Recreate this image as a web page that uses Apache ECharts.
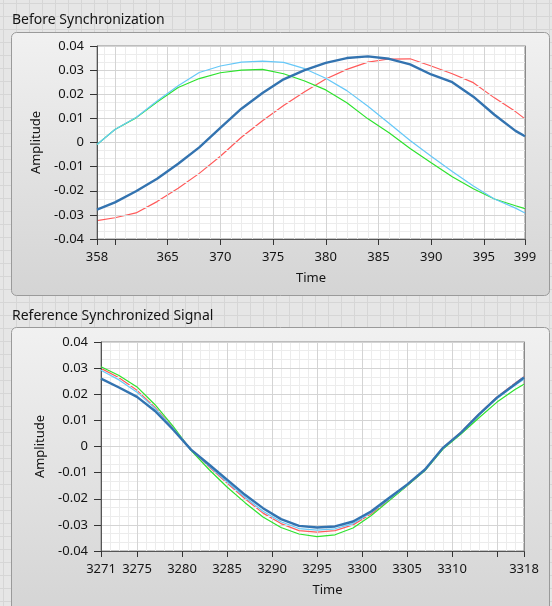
<!DOCTYPE html>
<html>
<head>
<meta charset="utf-8">
<script src="https://cdn.jsdelivr.net/npm/echarts@6/dist/echarts.min.js"></script>
<style>
  html, body { margin: 0; padding: 0; }
  body {
    width: 552px; height: 606px; overflow: hidden;
    background-color: #e6e6e6;
    background-image:
      linear-gradient(#d6d6d6 1px, transparent 1px),
      linear-gradient(90deg, #d6d6d6 1px, transparent 1px);
    background-size: 13px 13px;
    background-position: 3px 3px;
  }
  #chart { width: 552px; height: 606px; }
</style>
</head>
<body>
<div id="chart"></div>
<script>
// ---------- Data: Before Synchronization ----------
const topTime = [358.3, 360, 362, 364, 366, 368, 370, 372, 374, 376, 378, 380, 382, 384, 386, 388, 390, 392, 394, 396, 398, 398.9];
const topRed = [-0.0324, -0.0312, -0.0292, -0.0245, -0.0190, -0.0128, -0.0057, 0.0022, 0.0090, 0.0153, 0.0210, 0.0263, 0.0303, 0.0333, 0.0346, 0.0347, 0.0317, 0.0285, 0.0248, 0.0185, 0.0128, 0.0098];
const topGreen = [-0.0008, 0.0054, 0.0102, 0.0168, 0.0228, 0.0265, 0.0289, 0.0300, 0.0303, 0.0285, 0.0255, 0.0218, 0.0165, 0.0098, 0.0040, -0.0025, -0.0084, -0.0142, -0.0192, -0.0234, -0.0262, -0.0274];
const topLightBlue = [-0.0008, 0.0054, 0.0104, 0.0172, 0.0235, 0.0290, 0.0317, 0.0333, 0.0337, 0.0332, 0.0306, 0.0266, 0.0215, 0.0150, 0.0080, 0.0008, -0.0057, -0.0120, -0.0180, -0.0234, -0.0272, -0.0292];
const topDarkBlue = [-0.0278, -0.0248, -0.0202, -0.0150, -0.0088, -0.0020, 0.0061, 0.0140, 0.0205, 0.0262, 0.0300, 0.0330, 0.0350, 0.0357, 0.0347, 0.0324, 0.0282, 0.0250, 0.0190, 0.0115, 0.0048, 0.0026];

// ---------- Data: Reference Synchronized Signal ----------
const botTime = [3271, 3273, 3275, 3277, 3279, 3281, 3283, 3285, 3287, 3289, 3291, 3293, 3295, 3297, 3299, 3301, 3303, 3305, 3307, 3309, 3311, 3313, 3315, 3317, 3318];
const botRed = [0.0299, 0.0263, 0.0215, 0.0150, 0.0072, -0.0012, -0.0078, -0.0140, -0.0200, -0.0255, -0.0295, -0.0322, -0.0328, -0.0322, -0.0300, -0.0258, -0.0205, -0.0150, -0.0090, -0.0005, 0.0055, 0.0125, 0.0190, 0.0242, 0.0267];
const botGreen = [0.0305, 0.0272, 0.0228, 0.0160, 0.0078, -0.0015, -0.0088, -0.0155, -0.0215, -0.0270, -0.0310, -0.0335, -0.0345, -0.0338, -0.0312, -0.0265, -0.0208, -0.0150, -0.0092, -0.0010, 0.0048, 0.0110, 0.0170, 0.0218, 0.0238];
const botLightBlue = [0.0292, 0.0255, 0.0208, 0.0146, 0.0070, -0.0012, -0.0075, -0.0135, -0.0194, -0.0248, -0.0288, -0.0314, -0.0320, -0.0315, -0.0295, -0.0254, -0.0202, -0.0148, -0.0089, -0.0005, 0.0053, 0.0120, 0.0184, 0.0234, 0.0257];
const botDarkBlue = [0.0260, 0.0226, 0.0190, 0.0136, 0.0065, -0.0012, -0.0069, -0.0127, -0.0185, -0.0236, -0.0278, -0.0304, -0.0310, -0.0306, -0.0287, -0.0249, -0.0197, -0.0146, -0.0088, -0.0005, 0.0053, 0.0123, 0.0187, 0.0238, 0.0264];

// ---------- Axes / ticks ----------
const topXMin = 358.3, topXMax = 398.9;
const topTickValues = [358.3, 360, 365, 370, 375, 380, 385, 390, 395, 398.9];
const topLabelValues = [358.3, 365, 370, 375, 380, 385, 390, 395, 398.9];
const topMinorValues = [359, 361, 362, 363, 364, 366, 367, 368, 369, 371, 372, 373, 374, 376, 377, 378, 379, 381, 382, 383, 384, 386, 387, 388, 389, 391, 392, 393, 394, 396, 397, 398];

const botXMin = 3271, botXMax = 3318;
const botTickValues = [3271, 3275, 3280, 3285, 3290, 3295, 3300, 3305, 3310, 3315, 3318];
const botLabelValues = [3271, 3275, 3280, 3285, 3290, 3295, 3300, 3305, 3310, 3318];
const botMinorValues = [3272, 3273, 3274, 3276, 3277, 3278, 3279, 3281, 3282, 3283, 3284, 3286, 3287, 3288, 3289, 3291, 3292, 3293, 3294, 3296, 3297, 3298, 3299, 3301, 3302, 3303, 3304, 3306, 3307, 3308, 3309, 3311, 3312, 3313, 3314, 3316, 3317];

const yMin = -0.04, yMax = 0.04, yInterval = 0.01;

const titles = ['Before Synchronization', 'Reference Synchronized Signal'];
const colors = { red: '#ff5a5a', green: '#2ee22e', lightBlue: '#66c8f8', darkBlue: '#3373b0' };

const FONT = 'Noto Sans';
const TEXT = '#141414';
const pair = (xs, ys) => xs.map((x, i) => [x, ys[i]]);

const chart = echarts.init(document.getElementById('chart'), null, { renderer: 'canvas' });

function mainX(gridIndex, min, max, ticks, labels, nameOpts) {
  return {
    gridIndex, type: 'value', min, max, position: 'bottom',
    axisLine: { show: true, onZero: false, lineStyle: { color: '#555', width: 1 } },
    axisTick: { show: true, inside: false, length: 6, customValues: ticks, lineStyle: { color: '#333' } },
    axisLabel: { customValues: labels, formatter: v => String(Math.round(v)), margin: 12, color: TEXT, fontSize: 13, fontFamily: FONT },
    splitLine: { show: true, lineStyle: { color: '#d4d4d4', width: 1 } },
    name: 'Time', nameLocation: 'middle', nameGap: nameOpts.gap,
    nameTextStyle: Object.assign({ color: TEXT, fontSize: 13, fontFamily: FONT }, nameOpts.style || {}),
    z: 3
  };
}
function minorX(gridIndex, min, max, vals) {
  return {
    gridIndex, type: 'value', min, max, position: 'top',
    axisLine: { show: true, onZero: false, lineStyle: { color: '#8a8a8a', width: 1 } },
    axisTick: { show: false, customValues: vals },
    axisLabel: { show: false },
    splitLine: { show: true, lineStyle: { color: '#ececec', width: 1 } },
    z: 1
  };
}
function mainY(gridIndex, gap) {
  return {
    gridIndex, type: 'value', min: yMin, max: yMax, interval: yInterval, position: 'left',
    axisLine: { show: true, onZero: false, lineStyle: { color: '#555', width: 1 } },
    axisTick: { show: true, inside: false, length: 7, lineStyle: { color: '#333' } },
    axisLabel: { margin: 13, color: TEXT, fontSize: 13, fontFamily: FONT,
      formatter: v => Math.abs(v) < 1e-9 ? '0' : v.toFixed(2) },
    splitLine: { show: true, lineStyle: { color: '#d4d4d4', width: 1 } },
    minorTick: { show: false, splitNumber: 3 },
    minorSplitLine: { show: true, lineStyle: { color: '#ececec', width: 1 } },
    name: 'Amplitude', nameLocation: 'middle', nameGap: gap,
    nameTextStyle: { color: TEXT, fontSize: 13, fontFamily: FONT },
    z: 3
  };
}
function borderY(gridIndex) {
  return {
    gridIndex, type: 'value', min: yMin, max: yMax, position: 'right',
    axisLine: { show: true, onZero: false, lineStyle: { color: '#8a8a8a', width: 1 } },
    axisTick: { show: false }, axisLabel: { show: false }, splitLine: { show: false },
    z: 4
  };
}
function line(name, data, color, width, xi, yi, z) {
  return {
    name, type: 'line', data, xAxisIndex: xi, yAxisIndex: yi,
    showSymbol: false, symbol: 'none', smooth: false, clip: true,
    lineStyle: { color, width }, itemStyle: { color }, z,
    animation: false
  };
}

const panelFill = () => new echarts.graphic.LinearGradient(0, 0, 0, 1, [
  { offset: 0, color: '#f1f1f1' }, { offset: 1, color: '#d4d4d4' }
]);

const option = {
  animation: false,
  backgroundColor: 'transparent',
  graphic: [
    { type: 'rect', z: -10, shape: { x: 11.5, y: 32.5, width: 538, height: 263, r: 5 },
      style: { fill: panelFill(), stroke: '#9a9a9a', lineWidth: 1 } },
    { type: 'rect', z: -10, shape: { x: 11.5, y: 327.5, width: 538, height: 290, r: 5 },
      style: { fill: panelFill(), stroke: '#9a9a9a', lineWidth: 1 } },
    { type: 'text', z: 5, left: 12, top: 13,
      style: { text: titles[0], fill: '#141414', font: '14px "' + FONT + '"' } },
    { type: 'text', z: 5, left: 12, top: 309,
      style: { text: titles[1], fill: '#141414', font: '14px "' + FONT + '"' } }
  ],
  grid: [
    { left: 97, top: 46, width: 428, height: 193, show: true, backgroundColor: '#ffffff', borderColor: '#8a8a8a', borderWidth: 1, outerBoundsMode: 'none', containLabel: false },
    { left: 101, top: 342, width: 423, height: 209, show: true, backgroundColor: '#ffffff', borderColor: '#8a8a8a', borderWidth: 1, outerBoundsMode: 'none', containLabel: false }
  ],
  xAxis: [
    mainX(0, topXMin, topXMax, topTickValues, topLabelValues, { gap: 33 }),
    minorX(0, topXMin, topXMax, topMinorValues),
    mainX(1, botXMin, botXMax, botTickValues, botLabelValues, { gap: 33, style: { padding: [0, 0, 0, 30] } }),
    minorX(1, botXMin, botXMax, botMinorValues)
  ],
  yAxis: [
    mainY(0, 53), borderY(0),
    mainY(1, 52), borderY(1)
  ],
  series: [
    line('Red', pair(topTime, topRed), colors.red, 1.2, 0, 0, 2),
    line('Green', pair(topTime, topGreen), colors.green, 1.2, 0, 0, 3),
    line('Light Blue', pair(topTime, topLightBlue), colors.lightBlue, 1.2, 0, 0, 4),
    line('Dark Blue', pair(topTime, topDarkBlue), colors.darkBlue, 2.4, 0, 0, 5),
    line('Red', pair(botTime, botRed), colors.red, 1.2, 2, 2, 2),
    line('Green', pair(botTime, botGreen), colors.green, 1.2, 2, 2, 3),
    line('Light Blue', pair(botTime, botLightBlue), colors.lightBlue, 1.2, 2, 2, 4),
    line('Dark Blue', pair(botTime, botDarkBlue), colors.darkBlue, 2.4, 2, 2, 5)
  ]
};
chart.setOption(option);
</script>
</body>
</html>
